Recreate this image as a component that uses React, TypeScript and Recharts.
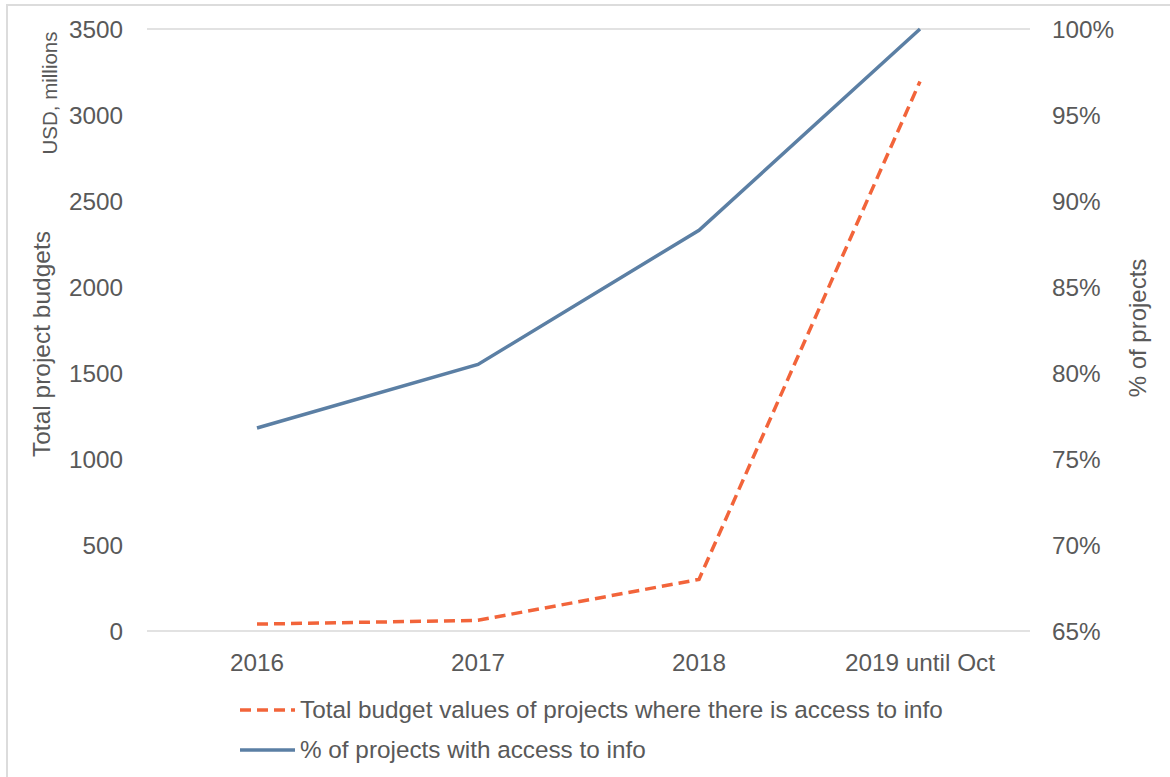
import React from "react";
import {
  LineChart,
  Line,
  XAxis,
  YAxis,
  CartesianGrid,
  Legend,
} from "recharts";

const years = ["2016", "2017", "2018", "2019 until Oct"];
const budgets = [40, 62, 300, 3195];
const sharePct = [76.8, 80.5, 88.3, 100];
const budgetTicks = [0, 500, 1000, 1500, 2000, 2500, 3000, 3500];
const pctTicks = [65, 70, 75, 80, 85, 90, 95, 100];

const budgetName = "Total budget values of projects where there is access to info";
const pctName = "% of projects with access to info";

const ORANGE = "#F2643A";
const BLUE = "#5B7FA4";
const TEXT = "#595959";
const FONT = "'Liberation Sans', Arial, sans-serif";

const data = years.map((y, i) => ({
  year: y,
  budget: budgets[i],
  pct: sharePct[i],
}));

const LegendBox = () => (
  <div style={{ fontFamily: FONT, fontSize: 24.3, color: TEXT }}>
    {[
      { name: budgetName, color: ORANGE, dash: "11 6" },
      { name: pctName, color: BLUE, dash: undefined },
    ].map((it) => (
      <div key={it.name} style={{ display: "flex", alignItems: "center", height: 40 }}>
        <svg width={60} height={10} style={{ marginRight: 2 }}>
          <line x1={2} y1={5} x2={57} y2={5} stroke={it.color} strokeWidth={3.5} strokeDasharray={it.dash} />
        </svg>
        <span>{it.name}</span>
      </div>
    ))}
  </div>
);

export default function App() {
  const tickStyle = { fontSize: 24.3, fill: TEXT, fontFamily: FONT };
  const title = { position: "absolute" as const, transform: "translate(-50%, -50%) rotate(-90deg)", whiteSpace: "nowrap" as const, fontFamily: FONT, color: TEXT };
  return (
    <div style={{ position: "absolute", left: 0, top: 0, width: 1170, height: 777, overflow: "hidden", background: "#fff" }}>
      <div style={{ position: "absolute", left: 6, top: 4, width: 1180, height: 800, border: "2px solid #dcdcdc" }} />
      <div style={{ position: "absolute", left: 0, top: 0 }}>
        <LineChart width={1170} height={777} data={data} margin={{ top: 29, right: 0, left: 0, bottom: 106 }}>
          <CartesianGrid vertical={false} stroke="#d9d9d9" strokeWidth={1.5} />
          <XAxis
            dataKey="year"
            padding={{ left: 110, right: 110 }}
            axisLine={false}
            tickLine={false}
            tickSize={0}
            tickMargin={23}
            height={40}
            tick={tickStyle}
          />
          <YAxis
            yAxisId="left"
            domain={[0, 3500]}
            ticks={budgetTicks}
            width={147}
            axisLine={false}
            tickLine={false}
            tickSize={0}
            tickMargin={24}
            tick={tickStyle}
          />
          <YAxis
            yAxisId="right"
            orientation="right"
            domain={[65, 100]}
            ticks={pctTicks}
            tickFormatter={(v) => `${v}%`}
            width={140}
            axisLine={false}
            tickLine={false}
            tickSize={0}
            tickMargin={22}
            tick={tickStyle}
          />
          <Legend
            layout="vertical"
            verticalAlign="middle"
            align="center"
            wrapperStyle={{ top: 690, left: 238, width: "auto" }}
            content={<LegendBox />}
          />
          <Line
            yAxisId="left"
            dataKey="budget"
            name={budgetName}
            stroke={ORANGE}
            strokeWidth={3.5}
            strokeDasharray="11 6"
            dot={false}
            isAnimationActive={false}
          />
          <Line
            yAxisId="right"
            dataKey="pct"
            name={pctName}
            stroke={BLUE}
            strokeWidth={3.5}
            dot={false}
            isAnimationActive={false}
          />
        </LineChart>
      </div>
      <div style={{ ...title, left: 42, top: 344, fontSize: 24.5 }}>Total project budgets</div>
      <div style={{ ...title, left: 50, top: 93, fontSize: 20.5 }}>USD, millions</div>
      <div style={{ ...title, left: 1138, top: 328, fontSize: 24 }}>% of projects</div>
    </div>
  );
}
